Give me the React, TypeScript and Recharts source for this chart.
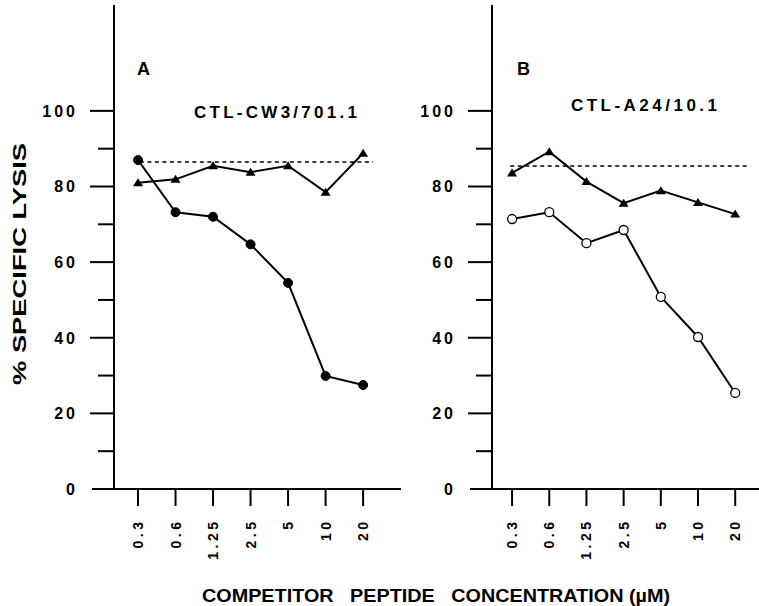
import { LineChart, Line, XAxis, YAxis } from 'recharts';

// competitor peptide concentrations (µM), one tick each
const concentrations = ['0.3', '0.6', '1.25', '2.5', '5', '10', '20'];

// panel A: CTL-CW3/701.1
const lysisA_peptide = [87.0, 73.2, 72.0, 64.7, 54.5, 29.9, 27.5];
const lysisA_control = [81.0, 81.9, 85.5, 83.8, 85.5, 78.5, 88.8];

// panel B: CTL-A24/10.1
const lysisB_peptide = [71.4, 73.2, 65.0, 68.5, 50.8, 40.2, 25.4];
const lysisB_control = [83.6, 89.2, 81.3, 75.6, 78.9, 75.8, 72.7];

// lysis without competitor (dashed level) and its span, in tick-index units
const noCompetitor = [86.5, 85.4];
const dashSpanA = [0.05, 6.27];
const dashSpanB = [-0.05, 6.32];

const yTicks = [0, 10, 20, 30, 40, 50, 60, 70, 80, 90, 100];
const xTicks = concentrations.map((_, i) => i);

const FONT = '"Liberation Sans", Arial, Helvetica, sans-serif';

const buildRows = (peptide: number[], control: number[]) =>
  concentrations.map((c, i) => ({ x: i, label: c, peptide: peptide[i], control: control[i] }));

const buildDash = (level: number, span: number[]) => [
  { x: span[0], level },
  { x: span[1], level },
];

const YTick = (props: any) => {
  const { x, y, payload } = props;
  const v = payload.value as number;
  const major = v % 20 === 0;
  const len = v === 0 ? 22 : major ? 24 : 16;
  return (
    <g>
      <line x1={x - len} x2={x} y1={y} y2={y} stroke="#000" strokeWidth={2} />
      {major && (
        <text
          x={x - 36}
          y={y}
          dy="0.36em"
          textAnchor="end"
          fontFamily={FONT}
          fontWeight="bold"
          fontSize={16}
          letterSpacing={3}
          fill="#000"
        >
          {v}
        </text>
      )}
    </g>
  );
};

const XTick = (props: any) => {
  const { x, y, payload } = props;
  const ty = y + 29.5;
  return (
    <g>
      <line x1={x} x2={x} y1={y} y2={y + 17} stroke="#000" strokeWidth={2} />
      <text
        x={x}
        y={ty}
        dy="0.36em"
        transform={`rotate(-90, ${x}, ${ty})`}
        textAnchor="end"
        fontFamily={FONT}
        fontWeight="bold"
        fontSize={14}
        letterSpacing={3.5}
        fill="#000"
      >
        {concentrations[payload.value]}
      </text>
    </g>
  );
};

const Triangle = (props: any) => {
  const { cx, cy, index } = props;
  if (cx == null || cy == null) return <g key={index} />;
  return (
    <polygon
      key={index}
      points={`${cx - 5},${cy + 3.5} ${cx + 5},${cy + 3.5} ${cx},${cy - 4.5}`}
      fill="#000"
    />
  );
};

interface PanelProps {
  left: number;
  width: number;
  axisWidth: number;
  marginRight: number;
  domain: [number, number];
  rows: any[];
  dash: any[];
  openCircles: boolean;
}

function Panel({ left, width, axisWidth, marginRight, domain, rows, dash, openCircles }: PanelProps) {
  return (
    <div style={{ position: 'absolute', left, top: 0 }}>
      <LineChart
        width={width}
        height={606}
        data={rows}
        margin={{ top: 5, right: marginRight, bottom: 0, left: 0 }}
      >
        <XAxis
          dataKey="x"
          type="number"
          domain={domain}
          ticks={xTicks}
          interval={0}
          height={117}
          tickSize={0}
          tickMargin={0}
          tick={<XTick />}
          axisLine={{ stroke: '#000', strokeWidth: 2 }}
          allowDataOverflow
        />
        <YAxis
          type="number"
          domain={[0, 128]}
          ticks={yTicks}
          interval={0}
          width={axisWidth}
          tickSize={0}
          tickMargin={0}
          tick={<YTick />}
          axisLine={{ stroke: '#000', strokeWidth: 2 }}
          allowDataOverflow
        />
        <Line
          data={dash}
          dataKey="level"
          stroke="#000"
          strokeWidth={1.5}
          strokeDasharray="4 3.5"
          dot={false}
          isAnimationActive={false}
        />
        <Line
          dataKey="control"
          stroke="#000"
          strokeWidth={2}
          dot={<Triangle />}
          isAnimationActive={false}
        />
        <Line
          dataKey="peptide"
          stroke="#000"
          strokeWidth={2}
          dot={
            openCircles
              ? { r: 4.5, fill: '#fff', stroke: '#000', strokeWidth: 1.3 }
              : { r: 4.5, fill: '#000', stroke: '#000', strokeWidth: 1 }
          }
          isAnimationActive={false}
        />
      </LineChart>
    </div>
  );
}

export default function App() {
  const textStyle = { fontFamily: FONT, fontWeight: 'bold' as const, fill: '#000' };
  return (
    <div
      style={{
        position: 'absolute',
        left: 0,
        top: 0,
        width: 759,
        height: 606,
        background: '#fff',
        overflow: 'hidden',
      }}
    >
      <Panel
        left={0}
        width={420}
        axisWidth={114}
        marginRight={19}
        domain={[-0.64, 7.01]}
        rows={buildRows(lysisA_peptide, lysisA_control)}
        dash={buildDash(noCompetitor[0], dashSpanA)}
        openCircles={false}
      />
      <Panel
        left={380}
        width={379}
        axisWidth={112}
        marginRight={0}
        domain={[-0.54, 6.64]}
        rows={buildRows(lysisB_peptide, lysisB_control)}
        dash={buildDash(noCompetitor[1], dashSpanB)}
        openCircles
      />
      <svg
        width={759}
        height={606}
        style={{ position: 'absolute', left: 0, top: 0, pointerEvents: 'none' }}
      >
        <text x={137} y={75} fontSize={18} {...textStyle}>A</text>
        <text x={517} y={75} fontSize={18} {...textStyle}>B</text>
        <text x={194} y={118} fontSize={17} textLength={163} lengthAdjust="spacing" {...textStyle}>
          CTL-CW3/701.1
        </text>
        <text x={571} y={111} fontSize={17} textLength={146} lengthAdjust="spacing" {...textStyle}>
          CTL-A24/10.1
        </text>
        <text
          x={20}
          y={264}
          dy="0.36em"
          transform="rotate(-90, 20, 264)"
          textAnchor="middle"
          fontSize={18}
          textLength={242}
          lengthAdjust="spacingAndGlyphs"
          {...textStyle}
        >
          % SPECIFIC LYSIS
        </text>
        <text
          x={436}
          y={602}
          textAnchor="middle"
          fontSize={19}
          textLength={468}
          lengthAdjust="spacingAndGlyphs"
          style={{ whiteSpace: 'pre' }}
          {...textStyle}
        >
          {'COMPETITOR   PEPTIDE   CONCENTRATION (µM)'}
        </text>
      </svg>
    </div>
  );
}
